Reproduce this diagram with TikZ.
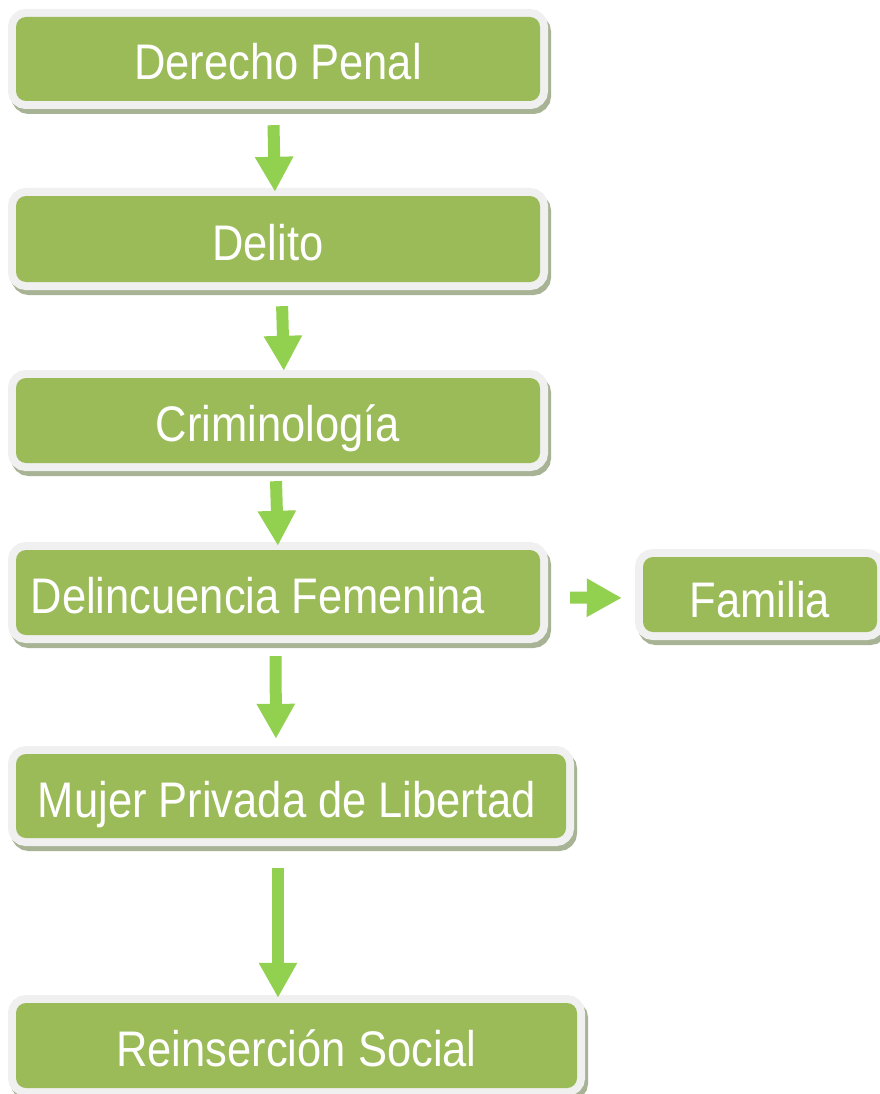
\documentclass[tikz,border=0pt]{standalone}
\usepackage{fontspec}
\newfontfamily\cajafont{Liberation Sans}[FakeStretch=0.87]
\usetikzlibrary{arrows.meta}
\definecolor{verde}{HTML}{9BBB59}
\definecolor{marco}{HTML}{F0F0F0}
\definecolor{sombra}{HTML}{A7B394}
\definecolor{flechaverde}{HTML}{92D050}

\begin{document}
\begin{tikzpicture}[x=1pt, y=-1pt,
    caja/.style={fill=verde, rounded corners=10pt, inner sep=0pt,
        text=white, font=\cajafont\fontsize{50}{60}\selectfont,
        text height=42pt, text depth=0pt,
        preaction={draw=sombra, line width=16pt, transform canvas={shift={(3pt,-5pt)}}},
        preaction={draw=marco, line width=16pt}},
    flecha/.style={draw=flechaverde, line width=12pt, -{Triangle[width=36pt,length=35pt]}}]
    \useasboundingbox (0,0) rectangle (879,1094);

    % Nodes with manual coordinates
    \node[caja, minimum width=524pt, minimum height=84pt] (der) at (278,59) {Derecho Penal};
    \node[caja, minimum width=524pt, minimum height=86pt] (dlt) at (278,239) {Delito\hspace*{20pt}};
    \node[caja, minimum width=524pt, minimum height=85pt] (crim) at (278,420.5) {Criminología};
    \node[caja, minimum width=524pt, minimum height=85pt] (fem) at (278,592.5) {Delincuencia Femenina\hspace*{40pt}};
    \node[caja, minimum width=234pt, minimum height=75pt, text height=46pt] (fam) at (760,594.5) {Familia};
    \node[caja, minimum width=550pt, minimum height=84pt] (muj) at (291,796) {Mujer Privada de Libertad\hspace*{8pt}};
    \node[caja, minimum width=561pt, minimum height=85pt] (rein) at (296.5,1045.5) {Reinserción Social};

    % Edges
    \draw[flecha, shorten <=24pt, shorten >=4pt] ([xshift=-5pt]der.south) -- ([xshift=-3pt]dlt.north);
    \draw[flecha, shorten <=24pt, shorten >=7pt] ([xshift=3.5pt]dlt.south) -- ([xshift=6pt]crim.north);
    \draw[flecha, shorten <=18pt, shorten >=4pt] ([xshift=-2.5pt]crim.south) -- (fem.north);
    \draw[flecha, shorten <=21pt, shorten >=15pt] ([xshift=-2.5pt]fem.south) -- ([xshift=-15pt]muj.north);
    \draw[flecha, shorten <=30pt, shorten >=5pt] ([xshift=-13pt]muj.south) -- ([xshift=-18.5pt]rein.north);
    \draw[flecha, shorten <=30pt, shorten >=21pt] ([yshift=-5pt]fem.east) -- ([yshift=-3.5pt]fam.west);
\end{tikzpicture}
\end{document}
